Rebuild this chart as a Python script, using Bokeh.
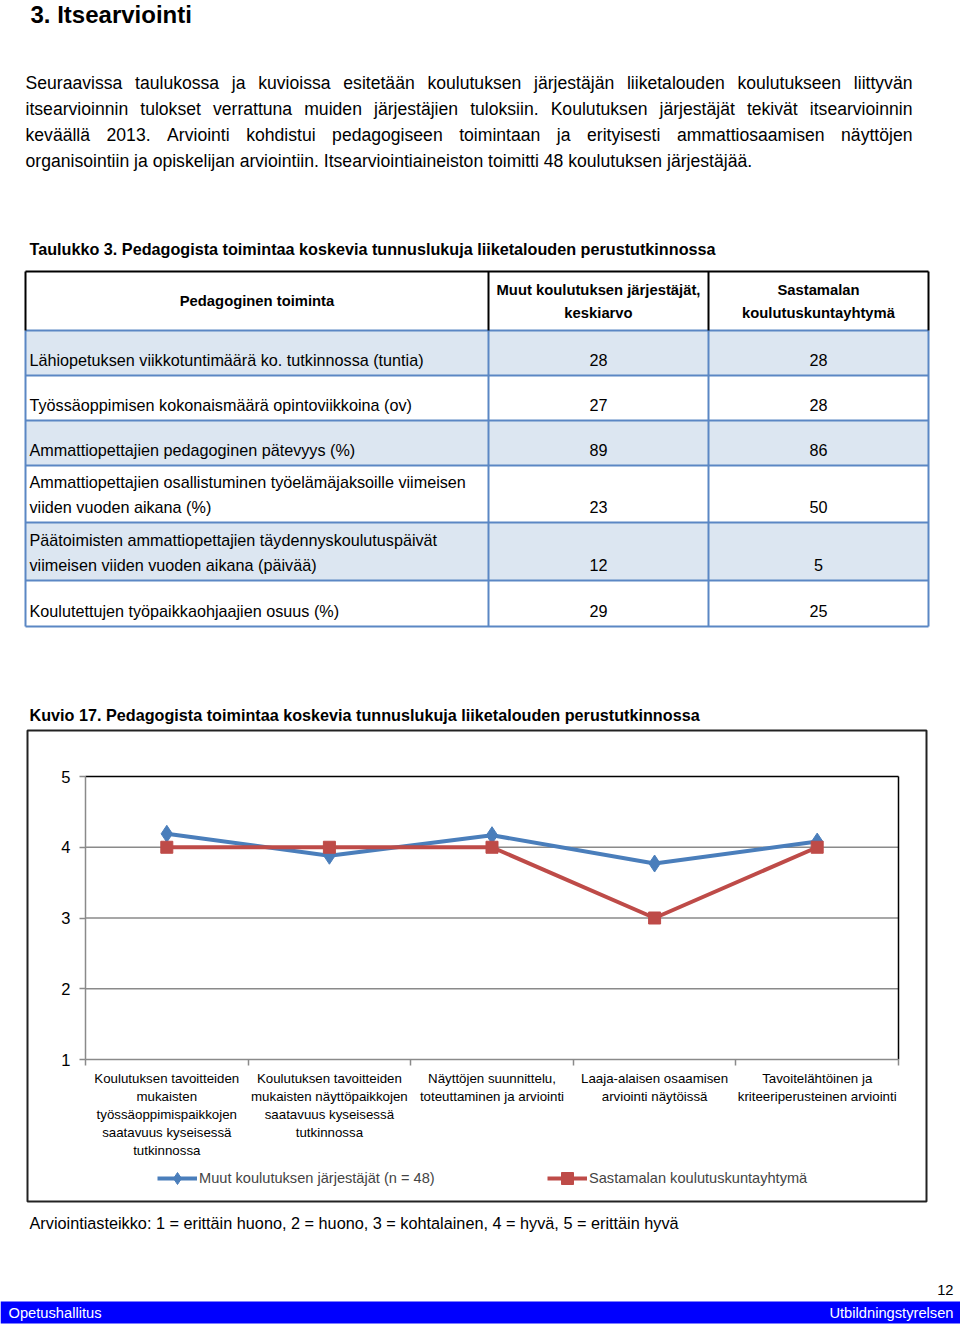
from bokeh.plotting import figure
from bokeh.models import Range1d, LinearAxis, FixedTicker, Legend, LegendItem
from bokeh.layouts import column
from bokeh.core.properties import value
from bokeh.embed import file_html
from bokeh.resources import INLINE

SANS = "Liberation Sans"

# ---------------- data ----------------
title = "3. Itsearviointi"
paragraph_lines = [
    "Seuraavissa taulukossa ja kuvioissa esitetään koulutuksen järjestäjän liiketalouden koulutukseen liittyvän",
    "itsearvioinnin tulokset verrattuna muiden järjestäjien tuloksiin. Koulutuksen järjestäjät tekivät itsearvioinnin",
    "keväällä 2013. Arviointi kohdistui pedagogiseen toimintaan ja erityisesti ammattiosaamisen näyttöjen",
    "organisointiin ja opiskelijan arviointiin. Itsearviointiaineiston toimitti 48 koulutuksen järjestäjää.",
]
table_caption = "Taulukko 3. Pedagogista toimintaa koskevia tunnuslukuja liiketalouden perustutkinnossa"
table_headers = [
    ["Pedagoginen toiminta"],
    ["Muut koulutuksen järjestäjät,", "keskiarvo"],
    ["Sastamalan", "koulutuskuntayhtymä"],
]
row_labels = [
    ["Lähiopetuksen viikkotuntimäärä ko. tutkinnossa (tuntia)"],
    ["Työssäoppimisen kokonaismäärä opintoviikkoina (ov)"],
    ["Ammattiopettajien pedagoginen pätevyys (%)"],
    ["Ammattiopettajien osallistuminen työelämäjaksoille viimeisen", "viiden vuoden aikana (%)"],
    ["Päätoimisten ammattiopettajien täydennyskoulutuspäivät", "viimeisen viiden vuoden aikana (päivää)"],
    ["Koulutettujen työpaikkaohjaajien osuus (%)"],
]
muut_table = [28, 27, 89, 23, 12, 29]
sastamala_table = [28, 28, 86, 50, 5, 25]

chart_caption = "Kuvio 17. Pedagogista toimintaa koskevia tunnuslukuja liiketalouden perustutkinnossa"
categories = [
    "Koulutuksen tavoitteiden\nmukaisten\ntyössäoppimispaikkojen\nsaatavuus kyseisessä\ntutkinnossa",
    "Koulutuksen tavoitteiden\nmukaisten näyttöpaikkojen\nsaatavuus kyseisessä\ntutkinnossa",
    "Näyttöjen suunnittelu,\ntoteuttaminen ja arviointi",
    "Laaja-alaisen osaamisen\narviointi näytöissä",
    "Tavoitelähtöinen ja\nkriteeriperusteinen arviointi",
]
muut_scores = [4.19, 3.88, 4.17, 3.77, 4.08]
sastamala_scores = [4, 4, 4, 3, 4]
series_names = ["Muut koulutuksen järjestäjät (n = 48)", "Sastamalan koulutuskuntayhtymä"]
y_ticks = [1, 2, 3, 4, 5]

scale_note = "Arviointiasteikko: 1 = erittäin huono, 2 = huono, 3 = kohtalainen, 4 = hyvä, 5 = erittäin hyvä"
page_number = "12"
footer_left = "Opetushallitus"
footer_right = "Utbildningstyrelsen"

# ---------------- styles ----------------
BLUE = "#4a7ebb"
RED = "#be4b48"
GRID = "#8a8a8a"
TBL_LINE = "#5b87c4"
TBL_FILL = "#dce6f1"
BAR = "#0000ff"
W = 960

# Arial / Liberation Sans advance widths (1/1000 em) for justification
ARIAL = {" ": 278, ".": 278, ",": 278, "A": 667, "I": 278, "K": 667, "S": 667,
         "a": 556, "b": 556, "c": 500, "d": 556, "e": 556, "f": 278, "g": 556, "h": 556,
         "i": 222, "j": 222, "k": 500, "l": 222, "m": 833, "n": 556, "o": 556, "p": 556,
         "q": 556, "r": 333, "s": 500, "t": 278, "u": 556, "v": 500, "w": 722, "x": 500,
         "y": 500, "z": 500, "ä": 556, "ö": 556}


def wlen(s, size):
    return sum(ARIAL.get(ch, 556) for ch in s) / 1000.0 * size


def page_fig(y0, y1):
    f = figure(width=W, height=y1 - y0, x_range=Range1d(0, W), y_range=Range1d(y1, y0),
               output_backend="svg", toolbar_location=None, min_border=0,
               x_axis_location=None, y_axis_location=None, outline_line_color=None,
               background_fill_color="white", border_fill_color="white")
    f.grid.visible = False
    return f


def put(f, x, y, s, size, font=SANS, bold=False, align="left", baseline="middle", color="black"):
    f.text(x=[x], y=[y], text=[s], text_font=value(font), text_font_size=f"{size}px",
           text_font_style="bold" if bold else "normal", text_align=align,
           text_baseline=baseline, text_color=color)


# ================= top part: heading, paragraph, table =================
TOP_Y1 = 728
top = page_fig(0, TOP_Y1)
put(top, 30, 14, title, 24, bold=True)

P_SIZE = 17.6
P_LEFT, P_RIGHT = 25, 912
for i, line in enumerate(paragraph_lines):
    cy = 82 + 26 * i
    if i < len(paragraph_lines) - 1:
        words = line.split(" ")
        total = sum(wlen(w, P_SIZE) for w in words)
        gap = (P_RIGHT - P_LEFT - total) / (len(words) - 1)
        x = P_LEFT
        for w in words:
            put(top, x, cy, w, P_SIZE)
            x += wlen(w, P_SIZE) + gap
    else:
        put(top, P_LEFT, cy, line, P_SIZE)

put(top, 29, 248, table_caption, 16.2, bold=True)

col_edges = [25, 488, 708, 928]
head_top = 271
row_edges = [330, 375, 420, 465, 522, 580, 626]

# shaded rows
shade = list(range(0, len(row_labels), 2))
top.quad(left=[col_edges[0]] * len(shade), right=[col_edges[-1]] * len(shade),
         top=[row_edges[k] for k in shade], bottom=[row_edges[k + 1] for k in shade],
         fill_color=TBL_FILL, line_color=None)
# body grid lines
top.segment(x0=[col_edges[0]] * len(row_edges), x1=[col_edges[-1]] * len(row_edges),
            y0=row_edges, y1=row_edges, line_color=TBL_LINE, line_width=2)
top.segment(x0=col_edges, x1=col_edges, y0=[row_edges[0]] * 4, y1=[row_edges[-1]] * 4,
            line_color=TBL_LINE, line_width=2)
# header border
top.segment(x0=[col_edges[0]], x1=[col_edges[-1]], y0=[head_top], y1=[head_top],
            line_color="black", line_width=2)
top.segment(x0=col_edges, x1=col_edges, y0=[head_top] * 4, y1=[row_edges[0]] * 4,
            line_color="black", line_width=2)

head_mid = (head_top + row_edges[0]) / 2
for j, lines in enumerate(table_headers):
    cx = (col_edges[j] + col_edges[j + 1]) / 2
    n = len(lines)
    for k, s in enumerate(lines):
        put(top, cx, head_mid + (k - (n - 1) / 2) * 23, s, 14.8, bold=True, align="center")

T_SIZE = 16.2
for r, lines in enumerate(row_labels):
    bottom = row_edges[r + 1]
    cy = bottom - 15.5
    n = len(lines)
    for k, s in enumerate(lines):
        put(top, 29, cy - (n - 1 - k) * 25.5, s, T_SIZE)
    put(top, (col_edges[1] + col_edges[2]) / 2, cy, str(muut_table[r]), T_SIZE, align="center")
    put(top, (col_edges[2] + col_edges[3]) / 2, cy, str(sastamala_table[r]), T_SIZE, align="center")

put(top, 29, 714, chart_caption, 16.2, bold=True)

# ================= chart =================
CH_Y0, CH_Y1 = TOP_Y1, 1204
BOX_L, BOX_R, BOX_T, BOX_B = 27, 926, 730, 1201
PA_L, PA_R, PA_T, PA_B = 85, 898, 776, 1059
ncat = len(categories)
xs = [i + 0.5 for i in range(ncat)]
xscale = (PA_R - PA_L) / ncat
yscale = (PA_B - PA_T) / (y_ticks[-1] - y_ticks[0])
x_rng = Range1d((0 - PA_L) / xscale, ncat + (W - PA_R) / xscale)
y_rng = Range1d(y_ticks[0] - (CH_Y1 - PA_B) / yscale, y_ticks[-1] + (PA_T - CH_Y0) / yscale)

c = figure(width=W, height=CH_Y1 - CH_Y0, x_range=x_rng, y_range=y_rng,
           output_backend="svg", toolbar_location=None, min_border=0,
           x_axis_location=None, y_axis_location=None, outline_line_color=None,
           background_fill_color="white", border_fill_color="white")
c.grid.visible = False
c.extra_x_ranges = {"page": Range1d(0, W)}
c.extra_y_ranges = {"page": Range1d(CH_Y1, CH_Y0)}

# chart box
c.quad(left=[BOX_L], right=[BOX_R], top=[BOX_T], bottom=[BOX_B], fill_color=None,
       line_color="#222222", line_width=2, x_range_name="page", y_range_name="page")

inner = y_ticks[1:-1]
c.segment(x0=[0] * len(inner), x1=[ncat] * len(inner), y0=inner, y1=inner,
          line_color=GRID, line_width=1.5)
c.segment(x0=[0], x1=[ncat], y0=[y_ticks[-1]], y1=[y_ticks[-1]], line_color="black", line_width=1.5)
c.segment(x0=[ncat], x1=[ncat], y0=[y_ticks[0]], y1=[y_ticks[-1]], line_color="black", line_width=1.5)

ya = LinearAxis(ticker=FixedTicker(ticks=y_ticks), fixed_location=0,
                bounds=(y_ticks[0], y_ticks[-1]),
                axis_line_color=GRID, axis_line_width=1.5,
                major_tick_line_color=GRID, major_tick_line_width=1.5,
                major_tick_out=6, major_tick_in=0, minor_tick_out=0, minor_tick_in=0,
                major_label_standoff=9, major_label_text_font=SANS,
                major_label_text_font_size="16.5px", major_label_text_color="black")
c.add_layout(ya, "left")

xb = LinearAxis(ticker=FixedTicker(ticks=list(range(ncat + 1))), fixed_location=y_ticks[0],
                bounds=(0, ncat), axis_line_color=GRID, axis_line_width=1.5,
                major_tick_line_color=GRID, major_tick_line_width=1.5,
                major_tick_out=6, major_tick_in=0, minor_tick_out=0, minor_tick_in=0,
                major_label_overrides={i: "" for i in range(ncat + 1)})
c.add_layout(xb, "below")

xl = LinearAxis(ticker=FixedTicker(ticks=xs), fixed_location=y_ticks[0],
                axis_line_color=None, major_tick_line_color=None,
                major_tick_out=0, major_tick_in=0, minor_tick_out=0, minor_tick_in=0,
                major_label_overrides={x: cat for x, cat in zip(xs, categories)},
                major_label_standoff=11, major_label_text_font=SANS,
                major_label_text_font_size="13.3px", major_label_text_line_height=1.2,
                major_label_text_color="black")
c.add_layout(xl, "below")

bl = c.line(xs, muut_scores, line_color=BLUE, line_width=4)
bs = c.scatter(xs, muut_scores, marker="diamond", size=17, fill_color=BLUE, line_color=BLUE)
rl = c.line(xs, sastamala_scores, line_color=RED, line_width=4)
rs = c.scatter(xs, sastamala_scores, marker="square", size=12, fill_color=RED, line_color=RED)

for name, rends, lx in zip(series_names, [[bl, bs], [rl, rs]], [157, 547]):
    lg = Legend(items=[LegendItem(label=name, renderers=rends)], location=(lx, 11),
                orientation="horizontal", glyph_width=40, glyph_height=30, label_height=20,
                label_standoff=2, padding=0, margin=0, spacing=0,
                border_line_color=None, background_fill_alpha=0,
                label_text_font=SANS, label_text_font_size="14.6px")
    c.add_layout(lg)

# ================= bottom: note and footer =================
bot = page_fig(CH_Y1, 1329)
put(bot, 29, 1222, scale_note, 16.25)
put(bot, 953, 1289, page_number, 14.7, align="right")
bot.quad(left=[0], right=[W], top=[1301], bottom=[1323], fill_color=BAR, line_color=None)
put(bot, 8, 1312, footer_left, 14.7, color="white")
put(bot, 953, 1312, footer_right, 14.7, align="right", color="white")

layout = column(top, c, bot, spacing=0)
open("out.html", "w").write(file_html(layout, INLINE))
